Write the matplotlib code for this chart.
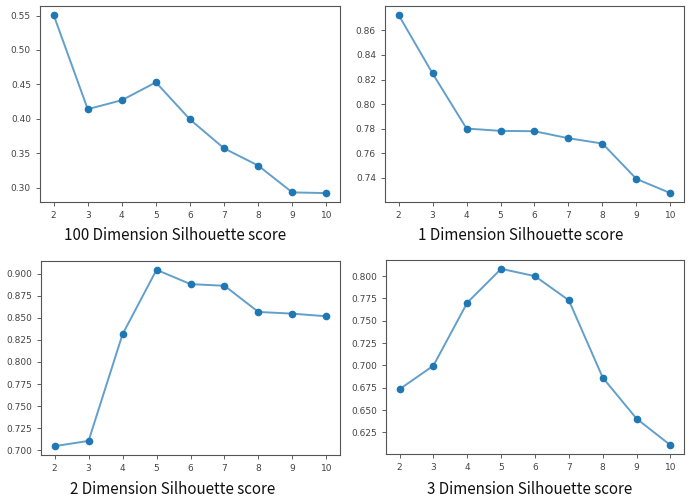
import matplotlib
matplotlib.use("Agg")
import matplotlib.pyplot as plt

k_values = [2, 3, 4, 5, 6, 7, 8, 9, 10]
score_100d = [0.551, 0.414, 0.427, 0.453, 0.399, 0.357, 0.332, 0.293, 0.292]
score_1d = [0.8726, 0.825, 0.7802, 0.7783, 0.778, 0.7723, 0.768, 0.7392, 0.7277]
score_2d = [0.7045, 0.7105, 0.8314, 0.9045, 0.8883, 0.8864, 0.8567, 0.8548, 0.8518]
score_3d = [0.6733, 0.6997, 0.7703, 0.8082, 0.800, 0.7729, 0.6863, 0.6403, 0.6106]
titles = ["100 Dimension Silhouette score", "1 Dimension Silhouette score",
          "2 Dimension Silhouette score", "3 Dimension Silhouette score"]

W, H = 691, 499
fig = plt.figure(figsize=(W / 100, H / 100), dpi=100)
fig.patch.set_facecolor("white")

# (left, top, right, bottom) in pixels
boxes = [(40, 6, 340, 202), (385, 6, 684, 202), (41, 261, 340, 455), (386, 260, 684, 454)]
title_pos = [(175, 236), (521, 236), (173, 489), (530, 489)]
series = [score_100d, score_1d, score_2d, score_3d]

for (l, t, r, b), ys, title, (tx, ty) in zip(boxes, series, titles, title_pos):
    ax = fig.add_axes([l / W, 1 - b / H, (r - l) / W, (b - t) / H])
    ax.plot(k_values, ys, color="#1f77b4", alpha=0.7, lw=1.4)
    ax.plot(k_values, ys, "o", color="#1f77b4", ms=4.5)
    ax.set_xticks(k_values)
    ax.tick_params(labelsize=6.5, colors="#444444", length=3, width=0.6)
    for s in ax.spines.values():
        s.set_color("#555555")
        s.set_linewidth(0.8)
    fig.text(tx / W, 1 - ty / H, title, ha="center", va="center",
             fontsize=10.9, family=["Noto Sans CJK KR", "DejaVu Sans"], color="#111111")

fig.savefig("out.png", dpi=100)
